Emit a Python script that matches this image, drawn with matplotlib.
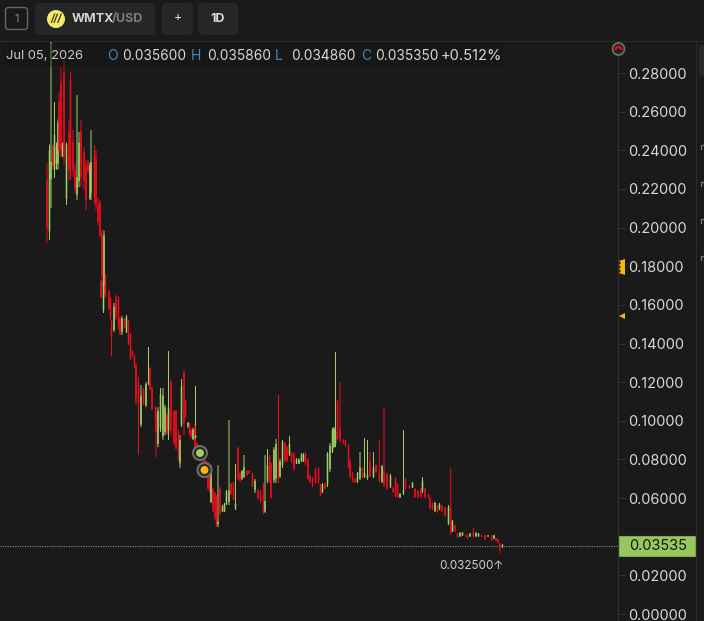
import matplotlib
matplotlib.use("Agg")
import matplotlib.pyplot as plt
from matplotlib.patches import FancyBboxPatch, Circle, Rectangle, Polygon, Arc
import numpy as np

plt.rcParams['font.family'] = ['Inter', 'DejaVu Sans']

BG = '#191a19'
GREEN = '#9fcf66'
RED = '#f00a1c'
TXT = '#d8d8d5'

days = [47,49.5,51,53,54.5,56.5,58,59,61,62.5,64,66.5,69,70.5,73,75,77,79,81,84,
86,88,90,91,94.5,96,98,100,102,104,
101,103.5,105.5,109,110.5,111.5,114,116,118.5,120,
122,124.5,126.5,128.5,130.5,132.5,134.5,136,138.5,141,
143.5,146,148.5,150,152,155.5,156,158,160.5,163,
165,167,168.5,171,174,176,178.5,180,181.5,184,
185.5,188,189.5,191,193,195,195.5,197,199,202,
204,206,208,209.5,211,213,215,216.5,218,220,
222.5,224.5,226.5,229,231,233.5,235.5,238,240,242,
244,247,249,
252.5,255,258,260.5,263.5,265,267.5,269.5,271,274,
276,278.5,280,282.5,285,287,289.5,291.5,294,296.5,
299,301.5,303.5,305.5,308,310,312.5,315.5,318.5,320.5,
322.5,325,327.5,330,332.5,334,335.5,337.5,340,343.5,
345.5,348.5,350,352.5,355,357.5,360,362.5,364.5,367.5,
370,373.5,376,379.3,382,384,387,390.5,393,395.5,
397.5,400,403.5,405.5,409.5,412.5,415,418,421,422.5,
425,428.5,430,432.5,435,437.5,439.5,442,445,448.5,
450.7,452.5,455,457.5,460,462.5,465.5,467.5,470,473.3,
476,478.5,481.5,485,488,491.7,494,496,498,500,
502.5]

highs = [.2334,.2430,.2960,.2435,.2650,.2440,.2560,.2700,.2830,.2440,
.2867,.2440,.2557,.2805,.2505,.2334,.2686,.2495,.2557,.2417,
.2350,.2350,.2334,.2505,.2427,.2402,.2153,.2143,.1988,.1985,
.1729,.1729,.1760,.1677,.1641,.1522,.1610,.1651,.1646,.1537,
.1542,.1532,.1547,.1522,.1454,.1366,.1340,.1299,.1227,.1185,
.1170,.1200,.1382,.1278,.1175,.1077,.1066,.1071,.1170,.1170,
.1082,.1040,.1361,.1211,.1056,.1056,.0952,.0926,.1216,.1263,
.1108,.0994,.0989,.0963,.0963,.0983,.1180,.0890,.0875,.0849,
.0823,.0797,.0787,.0745,.0771,.0652,.0631,.0616,.0771,.0657,
.0564,.0575,.0642,.1004,.0678,.0683,.0776,.0864,.0735,.0745,
.0823,.0745,.0745,
.0730,.0699,.0647,.0642,.0678,.0823,.0854,.0823,.0787,.0864,
.0906,.1134,.0802,.0901,.0890,.0870,.0921,.0838,.0838,.0807,
.0807,.0833,.0833,.0838,.0807,.0719,.0709,.0756,.0761,.0673,
.0678,.0678,.0838,.0885,.0963,.0968,.1356,.1108,.1201,.0906,
.0900,.0880,.0802,.0735,.0704,.0735,.0838,.0760,.0911,.0901,
.0838,.0838,.0776,.0901,.0771,.1071,.0730,.0725,.0657,.0709,
.0678,.0626,.0952,.0704,.0668,.0683,.0652,.0642,.0652,.0709,
.0652,.0621,.0606,.0575,.0580,.0564,.0575,.0564,.0554,.0564,
.0756,.0487,.0461,.0419,.0424,.0424,.0409,.0414,.0419,.0445,
.0424,.0419,.0409,.0409,.0409,.0409,.0409,.0393,.0388,.0367,
.03620]

lows = [.1920,.1936,.2100,.2298,.2257,.2300,.2300,.2365,.2365,.2365,
.2324,.2117,.2246,.2246,.2262,.2179,.2143,.2210,.2210,.2195,
.2090,.2283,.2143,.2143,.2117,.2090,.2013,.1951,.1700,.1650,
.1636,.1558,.1636,.1574,.1522,.1335,.1460,.1522,.1470,.1444,
.1444,.1480,.1454,.1392,.1315,.1330,.1273,.1082,.0823,.0968,
.1082,.1071,.1185,.1159,.1056,.1004,.0813,.0864,.0942,.0901,
.0926,.0926,.0901,.0926,.0875,.0849,.0797,.0756,.0968,.0926,
.1014,.0963,.0926,.0911,.0901,.0797,.0901,.0797,.0807,.0787,
.0735,.0704,.0642,.0631,.0575,.0528,.0487,.0450,.0450,.0512,
.0528,.0528,.0564,.0564,.0616,.0590,.0538,.0694,.0683,.0694,
.0704,.0714,.0725,
.0657,.0626,.0590,.0575,.0518,.0523,.0678,.0678,.0595,.0678,
.0678,.0678,.0704,.0756,.0787,.0787,.0818,.0782,.0740,.0776,
.0776,.0787,.0787,.0771,.0694,.0678,.0657,.0673,.0673,.0611,
.0626,.0647,.0657,.0735,.0833,.0859,.0864,.0901,.0890,.0880,
.0864,.0756,.0704,.0683,.0678,.0678,.0694,.0704,.0704,.0694,
.0709,.0704,.0730,.0683,.0678,.0657,.0642,.0652,.0626,.0606,
.0600,.0600,.0616,.0642,.0647,.0652,.0600,.0600,.0600,.0626,
.0600,.0600,.0543,.0538,.0528,.0523,.0538,.0528,.0502,.0461,
.0409,.0424,.0424,.0393,.0399,.0404,.0400,.0388,.0399,.0399,
.0399,.0399,.0399,.0383,.0399,.0378,.0388,.0378,.0367,.0316,
.03420]

opens = [.2250,.1980,.2250,.2420,.2300,.2330,.2330,.2650,.2750,.2370,
.2800,.2150,.2500,.2760,.2440,.2300,.2170,.2240,.2500,.2390,
.2320,.2340,.2150,.2180,.2380,.2360,.2120,.2130,.1970,.1700,
.1720,.1570,.1750,.1670,.1630,.1510,.1470,.1640,.1630,.1530,
.1460,.1525,.1460,.1515,.1450,.1360,.1335,.1290,.1200,.0980,
.1160,.1080,.1190,.1270,.1170,.1070,.1030,.0880,.0960,.0920,
.0940,.1030,.0950,.1200,.1050,.1050,.0945,.0780,.0975,.1250,
.1100,.0970,.0985,.0955,.0905,.0975,.0910,.0885,.0870,.0845,
.0820,.0790,.0780,.0740,.0580,.0645,.0625,.0610,.0465,.0650,
.0530,.0530,.0570,.0580,.0675,.0680,.0545,.0860,.0730,.0700,
.0710,.0740,.0740,
.0725,.0640,.0640,.0635,.0670,.0530,.0690,.0815,.0780,.0690,
.0700,.0780,.0710,.0770,.0885,.0865,.0825,.0835,.0830,.0778,
.0778,.0790,.0790,.0835,.0800,.0715,.0705,.0750,.0755,.0670,
.0630,.0675,.0670,.0750,.0840,.0865,.0880,.1100,.0960,.0900,
.0895,.0870,.0790,.0730,.0700,.0685,.0700,.0750,.0710,.0705,
.0790,.0710,.0770,.0730,.0685,.0740,.0725,.0660,.0650,.0700,
.0670,.0605,.0625,.0695,.0665,.0655,.0648,.0638,.0648,.0640,
.0648,.0618,.0600,.0572,.0532,.0560,.0542,.0560,.0550,.0470,
.0550,.0428,.0458,.0415,.0402,.0406,.0408,.0410,.0402,.0420,
.0402,.0402,.0407,.0407,.0401,.0407,.0390,.0391,.0386,.0365,
.03480]

closes = [.2000,.2400,.2340,.2320,.2480,.2420,.2540,.2400,.2400,.2430,
.2360,.2430,.2300,.2320,.2300,.2200,.2260,.2440,.2260,.2240,
.2140,.2290,.2320,.2340,.2160,.2125,.2030,.1960,.1750,.1960,
.1640,.1720,.1640,.1580,.1530,.1440,.1590,.1540,.1500,.1450,
.1530,.1485,.1535,.1400,.1320,.1335,.1280,.1100,.1090,.1130,
.1090,.1190,.1200,.1165,.1060,.1010,.0940,.1050,.1140,.1130,
.1070,.0935,.1070,.0950,.0885,.0860,.0810,.0900,.1180,.0990,
.1020,.0990,.0930,.0915,.0955,.0815,.0925,.0805,.0815,.0795,
.0740,.0710,.0650,.0640,.0760,.0535,.0495,.0460,.0480,.0520,
.0560,.0570,.0635,.0640,.0620,.0595,.0570,.0700,.0690,.0740,
.0760,.0720,.0730,
.0665,.0690,.0600,.0585,.0530,.0585,.0770,.0690,.0605,.0850,
.0880,.0700,.0790,.0890,.0795,.0795,.0880,.0790,.0750,.0800,
.0800,.0825,.0825,.0780,.0700,.0685,.0665,.0680,.0680,.0615,
.0670,.0650,.0830,.0870,.0950,.0960,.0940,.0910,.0895,.0885,
.0870,.0760,.0710,.0690,.0682,.0730,.0760,.0710,.0730,.0720,
.0715,.0760,.0735,.0690,.0765,.0665,.0650,.0715,.0632,.0615,
.0605,.0622,.0640,.0650,.0650,.0680,.0605,.0605,.0605,.0690,
.0605,.0602,.0548,.0542,.0575,.0528,.0570,.0532,.0508,.0555,
.0420,.0480,.0428,.0397,.0420,.0420,.0402,.0392,.0416,.0402,
.0420,.0416,.0401,.0386,.0407,.0380,.0407,.0380,.0369,.0340,
.03560]

y_ticks = [0.00, 0.02, 0.06, 0.08, 0.10, 0.12, 0.14, 0.16, 0.18, 0.20, 0.22, 0.24, 0.26, 0.28]
y_labels = ['0.00000','0.02000','0.06000','0.08000','0.10000','0.12000','0.14000',
            '0.16000','0.18000','0.20000','0.22000','0.24000','0.26000','0.28000']
last_price = 0.03535
low_mark = 0.0325
legend_parts = [('O', 107, 10), ('0.035600', 122, 9.85), ('H', 191, 10), ('0.035860', 207, 9.85),
                ('L', 275, 10), ('0.034860', 291, 9.85), ('C', 361, 10), ('0.035350', 375, 9.85),
                ('+0.512%', 440.5, 10.6)]

W, H = 704, 621
fig = plt.figure(figsize=(W/100, H/100), dpi=100, facecolor=BG)

ax = fig.add_axes([0, 0, 618/W, 580/H], facecolor=BG)
ax.set_xlim(0, 618)
ax.set_ylim((614-621)/1932, (614-41)/1932)
for s in ['top', 'left', 'bottom']:
    ax.spines[s].set_visible(False)
ax.spines['right'].set_color('#303130')
ax.spines['right'].set_linewidth(0.8)
ax.xaxis.set_visible(False)
ax.yaxis.tick_right()
ax.set_yticks(y_ticks)
ax.set_yticklabels(y_labels, fontsize=10.5, color=TXT)
ax.tick_params(axis='y', length=5, width=0.8, color='#303130', pad=2.5, right=True)

d = np.array(days); hi = np.array(highs); lo = np.array(lows)
op = np.array(opens); cl = np.array(closes)
cols = [GREEN if c >= o else RED for o, c in zip(op, cl)]
wick = ax.vlines(d, lo, hi, colors=cols, linewidth=0.72, zorder=3)
body = ax.vlines(d, np.minimum(op, cl), np.maximum(op, cl), colors=cols, linewidth=1.1, zorder=3)
wick.set_capstyle('butt'); body.set_capstyle('butt')
wick.set_snap(False); body.set_snap(False)

ax.axhline(last_price, color='#7f9f55', lw=0.8, ls=(0, (1, 1.2)), zorder=2)
ax.annotate('0.032500\u2191', xy=(503, low_mark), xytext=(0, -9), textcoords='offset pixels',
            ha='right', va='top', fontsize=8.4, color='#cfcfcc')

# chrome overlay in pixel coordinates
ov = fig.add_axes([0, 0, 1, 1], facecolor='none')
ov.set_xlim(0, W); ov.set_ylim(H, 0); ov.axis('off')

ov.add_patch(Rectangle((0, 0), W, 41, fc=BG, ec='none'))
ov.plot([0, W], [40.5, 40.5], color='#2a2b2a', lw=0.8)
ov.plot([695.5, 695.5], [41, H], color='#2a2b2a', lw=0.8)

def box(x, y, w, h, fc='#252625', ec='none', r=5):
    ov.add_patch(FancyBboxPatch((x+r, y+r), w-2*r, h-2*r, boxstyle=f'round,pad={r}',
                                fc=fc, ec=ec, lw=1))

box(5.5, 7.5, 22, 22, fc='none', ec='#666764', r=3)
ov.text(16.5, 18.5, '1', color='#8a8a88', fontsize=8, ha='center', va='center')
box(35, 3, 120, 32)
ov.add_patch(Circle((56, 19), 9, fc='#f3e96a', ec='none'))
ov.text(56, 19, '///', color='#2a2a1a', fontsize=7, fontweight='bold', style='italic', ha='center', va='center')
ov.text(72, 19, 'WMTX', color='#d5d5d2', fontsize=9, fontweight='bold', ha='left', va='center')
ov.text(111.5, 19, '/USD', color='#7d7e7b', fontsize=9, fontweight='bold', ha='left', va='center')
box(162, 3, 31, 32)
ov.text(177.5, 18.5, '+', color='#e0e0dd', fontsize=9, ha='center', va='center')
box(198, 3, 40, 32)
ov.text(218, 19, '1D', color='#dcdcd9', fontsize=9, fontweight='bold', ha='center', va='center')

# OHLC legend
ov.add_patch(Rectangle((3, 44), 500, 23, fc='#111211', ec='none', alpha=0.35))
ov.text(6, 56, 'Jul 05, 2026', color='#c9c9c6', fontsize=9.4, ha='left', va='center')
for s, x, fs in legend_parts:
    c = '#4a86b8' if len(s) == 1 else TXT
    ov.text(x, 56, s, color=c, fontsize=fs, ha='left', va='center')

# price tag
ov.add_patch(Rectangle((619, 536), 76, 20, fc='#98c75f', ec='#7fa850', lw=0.8))
ov.text(629, 546.5, f'{last_price:.5f}', color='#14160f', fontsize=10.5, ha='left', va='center')

# event markers
for (x, y, c) in [(200, 453, GREEN), (204.5, 470, '#f5b50a')]:
    ov.add_patch(Circle((x, y), 7, fc='#222322', ec='#6a6b69', lw=1.6))
    ov.add_patch(Circle((x, y), 4, fc=c, ec='none'))

# axis decorations
ov.add_patch(Circle((618.5, 49), 6, fc='#222322', ec='#6a6b69', lw=1.4))
ov.add_patch(Arc((618.5, 50), 6, 6, theta1=180, theta2=360, color=RED, lw=1.6))
ov.add_patch(Polygon([(625, 259), (619, 261), (621, 263), (619, 265), (621, 267), (619, 269),
                      (621, 271), (619, 273), (625, 275)], fc='#f5b50a', ec='none'))
ov.add_patch(Polygon([(625, 313), (625, 319), (619, 316)], fc='#f5b50a', ec='none'))
for y in [145, 182, 219, 256]:
    ov.plot([704, 701, 701], [y, y, y+4], color='#777876', lw=0.9)
box(699, 45, 12, 31, fc='#2a2b2a', r=4)

fig.savefig('out.png', dpi=100, facecolor=BG)
